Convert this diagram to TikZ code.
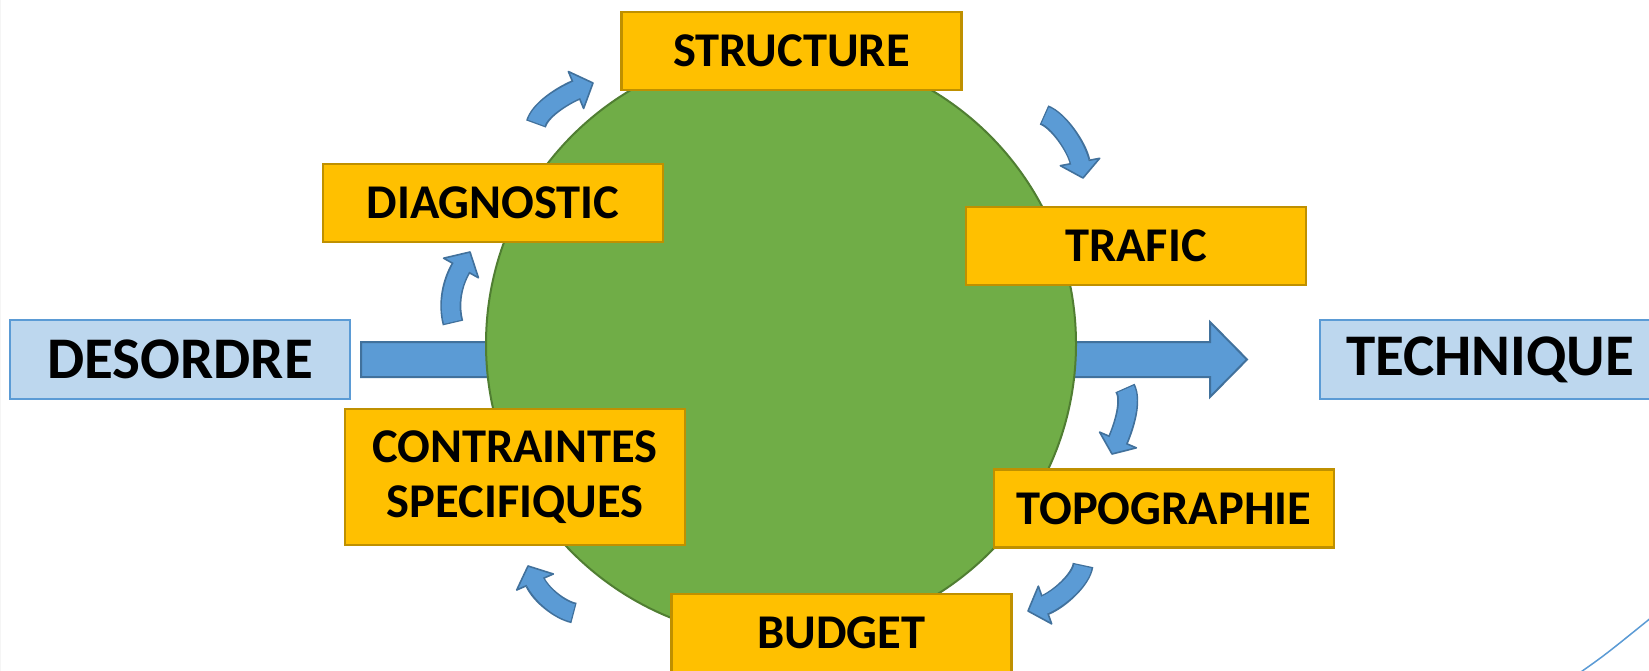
\documentclass[tikz,border=0pt]{standalone}
\usepackage{fontspec}
\setmainfont{Carlito}
\usetikzlibrary{calc}
\definecolor{ofill}{HTML}{FFC000}
\definecolor{oline}{HTML}{BF9000}
\definecolor{bfill}{HTML}{BDD7EE}
\definecolor{bline}{HTML}{5B9BD5}
\definecolor{gfill}{HTML}{70AD47}
\definecolor{gline}{HTML}{507E32}
\definecolor{afill}{HTML}{5B9BD5}
\definecolor{aline}{HTML}{41719C}
\tikzset{
  obox/.style={rectangle, fill=ofill, draw=oline, line width=2.6pt, inner sep=0pt,
    minimum width=340pt, minimum height=78pt, font=\fontsize{48.5}{55}\selectfont\bfseries, align=center},
  bbox/.style={rectangle, fill=bfill, draw=bline, line width=2pt, inner sep=0pt,
    minimum width=340pt, minimum height=79pt, font=\fontsize{59}{62}\selectfont\bfseries},
}
\newcommand\bentarrow[5]{%
  \draw[line width=21pt, draw=aline] (#1) .. controls (#2) and (#3) .. (#4);
  \filldraw[fill=afill, draw=aline, line width=1.6pt, line join=round]
     ($(#4)!20pt!90:(#5)$) -- (#5) -- ($(#4)!20pt!-90:(#5)$) -- cycle;
  \draw[line width=17.6pt, draw=afill, shorten <=1.3pt] (#1) .. controls (#2) and (#3) .. ($(#4)!3pt!(#5)$);
}
\begin{document}
\begin{tikzpicture}[x=1pt, y=-1pt]
\clip (0,0) rectangle (1649,671);
\fill[white] (0,0) rectangle (1649,671);
% faint left edge
\draw[black!4, line width=1pt] (0.5,0) -- (0.5,671);
% big arrow behind circle
\coordinate (ashaft) at (361,359.5);
\coordinate (atip) at (1247,359.5);
\filldraw[fill=afill, draw=aline, line width=2pt, line join=miter]
  (361,342) -- (1210,342) -- (1210,322) -- (atip) -- (1210,397) -- (1210,377) -- (361,377) -- cycle;
% circle
\node[circle, fill=gfill, draw=gline, line width=2pt, minimum size=590pt, inner sep=0pt] (c) at (781,344) {};
% boxes
\node[obox] (structure) at (791.5,51) {STRUCTURE};
\node[obox] (diag) at (493,203) {DIAGNOSTIC};
\node[obox] (trafic) at (1136,246) {TRAFIC};
\node[obox, minimum height=136pt] (contr) at (515,477) {CONTRAINTES\\SPECIFIQUES};
\node[obox] (topo) at (1164,508.5) {TOPOGRAPHIE};
\node[obox] (budget) at (841.5,633) {BUDGET};
\node[bbox] (desordre) at (180,359.5) {DESORDRE};
\node[bbox] (technique) at (1490,359.5) {TECHNIQUE};
% curved arrows
\coordinate (t1) at (453,323); \coordinate (b1) at (461,268); \coordinate (p1) at (470,252);
\bentarrow{t1}{448,304}{452,283}{b1}{p1}
\coordinate (t2) at (536,124); \coordinate (b2) at (576,90); \coordinate (p2) at (593,83);
\bentarrow{t2}{540,110}{562,96}{b2}{p2}
\coordinate (t3) at (1044,115); \coordinate (b3) at (1080,162); \coordinate (p3) at (1083,178);
\bentarrow{t3}{1058,120}{1077,147}{b3}{p3}
\coordinate (t4) at (1125,388); \coordinate (b4) at (1118,440); \coordinate (p4) at (1112,454);
\bentarrow{t4}{1132,401}{1124,426}{b4}{p4}
\coordinate (t5) at (1083,565); \coordinate (b5) at (1045,605); \coordinate (p5) at (1028,611);
\bentarrow{t5}{1081,580}{1058,600}{b5}{p5}
\coordinate (t6) at (574,613); \coordinate (b6) at (535,582); \coordinate (p6) at (528,566);
\bentarrow{t6}{560,610}{541,595}{b6}{p6}
% thin decorative line
\coordinate (l1) at (1578,674); \coordinate (l2) at (1652,617);
\draw[afill, line width=1.5pt] (l1) .. controls (1605,655) .. (l2);
\end{tikzpicture}
\end{document}
